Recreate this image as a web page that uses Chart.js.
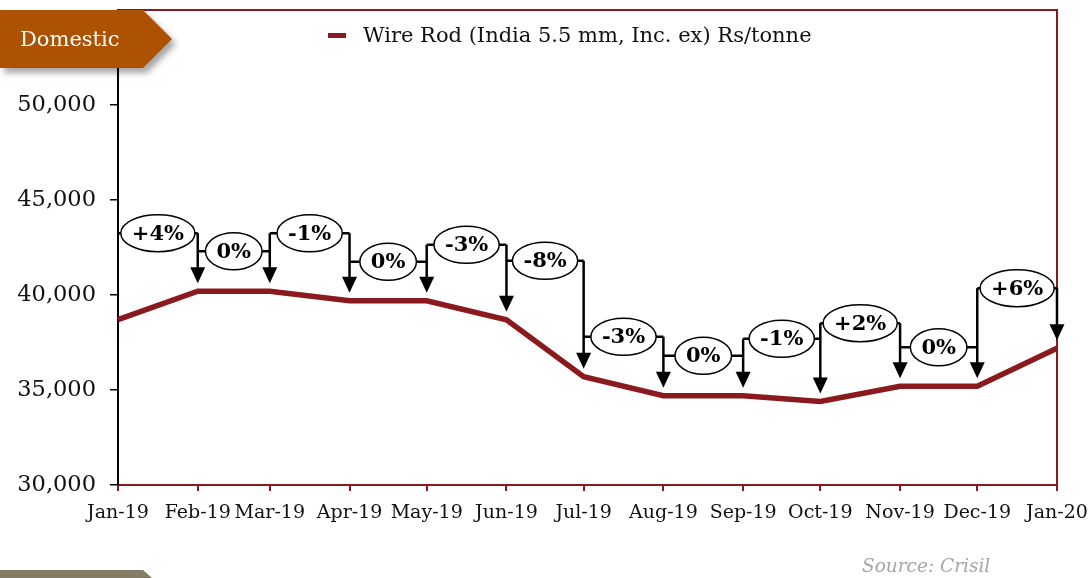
<!DOCTYPE html>
<html><head><meta charset="utf-8">
<script src="https://cdn.jsdelivr.net/npm/chart.js@4/dist/chart.umd.min.js"></script>
<style>
html,body{margin:0;padding:0;background:#fff;}
#wrap{position:relative;width:1089px;height:578px;overflow:hidden;background:#fff;}
#c{position:absolute;left:0;top:0;}
.tag{position:absolute;left:0;top:10px;filter:drop-shadow(4px 5px 3px rgba(0,0,0,0.35));}
.tag div{width:172px;height:58px;background:#AD5200;clip-path:polygon(0 0,143px 0,172px 29px,143px 58px,0 58px);color:#fff;font:21px "DejaVu Serif";line-height:58px;padding-left:20px;box-sizing:border-box;}
.foot{position:absolute;left:0;top:570px;width:152px;height:12px;background:#857C66;clip-path:polygon(0 0,143px 0,152px 8px,152px 12px,0 12px);}
.src{position:absolute;left:862px;top:555px;font:italic 18.5px "DejaVu Serif";color:#A6A6A6;white-space:nowrap;}
</style></head>
<body>
<div id="wrap">
<canvas id="c" width="1089" height="578"></canvas>
<div class="tag"><div>Domestic</div></div>
<div class="foot"></div>
<div class="src">Source: Crisil</div>
</div>
<script>
const monthLabels = ['Jan-19','Feb-19','Mar-19','Apr-19','May-19','Jun-19','Jul-19','Aug-19','Sep-19','Oct-19','Nov-19','Dec-19','Jan-20'];
const monthDates = ['2019-01-01','2019-02-01','2019-03-01','2019-04-01','2019-05-01','2019-06-01','2019-07-01','2019-08-01','2019-09-01','2019-10-01','2019-11-01','2019-12-01','2020-01-01'];
const wireRodPrices = [38700,40200,40200,39700,39700,38700,35700,34700,34700,34400,35200,35200,37200];
const changeLabels = ['+4%','0%','-1%','0%','-3%','-8%','-3%','0%','-1%','+2%','0%','+6%'];
const yTickValues = [30000,35000,40000,45000,50000];
const seriesName = 'Wire Rod (India 5.5 mm, Inc. ex) Rs/tonne';

const dayOffsets = monthDates.map(d => (Date.parse(d) - Date.parse(monthDates[0])) / 86400000);
const RED = '#8B1A1F';
const FONT = '"DejaVu Serif", serif';

const framePlugin = {
  id: 'frame',
  beforeDatasetsDraw(chart) {
    const {ctx, chartArea: a} = chart;
    ctx.save();
    ctx.strokeStyle = RED; ctx.lineWidth = 2;
    ctx.beginPath();
    ctx.moveTo(a.left, a.top); ctx.lineTo(a.right, a.top); ctx.lineTo(a.right, a.bottom);
    ctx.stroke();
    ctx.restore();
  },
  afterDraw(chart) {
    const ctx = chart.ctx;
    ctx.save();
    ctx.fillStyle = RED;
    ctx.fillRect(328, 33, 18, 5);
    ctx.fillStyle = '#111';
    ctx.font = '21px ' + FONT;
    ctx.textBaseline = 'middle';
    ctx.textAlign = 'left';
    ctx.fillText(seriesName, 363, 37);
    ctx.restore();
  }
};

const bracketPlugin = {
  id: 'brackets',
  afterDatasetsDraw(chart, args, opts) {
    const ctx = chart.ctx, xs = chart.scales.x, ys = chart.scales.y;
    const px = dayOffsets.map(d => xs.getPixelForValue(d));
    const py = wireRodPrices.map(v => ys.getPixelForValue(v));
    const lv = changeLabels.map((_, i) => Math.min(py[i], py[i + 1]) - opts.raise[i]);
    ctx.save();
    ctx.strokeStyle = '#000'; ctx.fillStyle = '#000'; ctx.lineWidth = 2.5;
    for (let i = 1; i < px.length; i++) {
      const top = i < lv.length ? Math.min(lv[i - 1], lv[i]) : lv[i - 1];
      const tip = py[i] - opts.gap;
      ctx.beginPath(); ctx.moveTo(px[i], top); ctx.lineTo(px[i], tip - opts.headH + 2); ctx.stroke();
      ctx.beginPath();
      ctx.moveTo(px[i] - opts.headW / 2, tip - opts.headH);
      ctx.lineTo(px[i] + opts.headW / 2, tip - opts.headH);
      ctx.lineTo(px[i], tip); ctx.closePath(); ctx.fill();
    }
    ctx.font = 'bold 21px ' + FONT;
    ctx.textAlign = 'center'; ctx.textBaseline = 'middle';
    for (let i = 0; i < lv.length; i++) {
      const cx = (px[i] + px[i + 1]) / 2, y = lv[i];
      const tw = ctx.measureText(changeLabels[i]).width;
      const rx = Math.min(tw / 2 + 11, (px[i + 1] - px[i]) / 2 - 1), ry = 18.5;
      ctx.lineWidth = 2.5; ctx.strokeStyle = '#000';
      ctx.beginPath();
      ctx.moveTo(px[i], y); ctx.lineTo(cx - rx, y);
      ctx.moveTo(cx + rx, y); ctx.lineTo(px[i + 1], y);
      ctx.stroke();
      ctx.beginPath(); ctx.ellipse(cx, y, rx, ry, 0, 0, Math.PI * 2);
      ctx.fillStyle = '#fff'; ctx.fill();
      ctx.lineWidth = 1.5; ctx.stroke();
      ctx.fillStyle = '#000';
      ctx.fillText(changeLabels[i], cx, y + 1);
    }
    ctx.restore();
  }
};

new Chart(document.getElementById('c'), {
  type: 'line',
  data: {
    datasets: [{
      label: seriesName,
      data: dayOffsets.map((d, i) => ({x: d, y: wireRodPrices[i]})),
      borderColor: RED, backgroundColor: RED, borderWidth: 5.5,
      pointRadius: 0, tension: 0, clip: false
    }]
  },
  options: {
    responsive: false, animation: false,
    layout: {padding: {top: 10, right: 32, left: 0, bottom: 0}},
    plugins: {
      legend: {display: false}, tooltip: {enabled: false},
      brackets: {raise: [58,40,58,39,56,59,40,40,57,63,39,60], gap: 8, headW: 15, headH: 16}
    },
    scales: {
      x: {
        type: 'linear', min: 0, max: dayOffsets[dayOffsets.length - 1],
        afterBuildTicks: s => { s.ticks = dayOffsets.map(v => ({value: v})); },
        afterFit: s => { s.height = 93; s.paddingLeft = 0; s.paddingRight = 0; },
        ticks: {autoSkip: false, maxRotation: 0, padding: 11, color: '#111',
          font: {family: FONT, size: 19}, callback: (v, i) => monthLabels[i]},
        grid: {drawOnChartArea: false, drawTicks: true, tickLength: 6, color: RED, lineWidth: 2},
        border: {display: true, color: RED, width: 2}
      },
      y: {
        min: 30000, max: 55000,
        afterBuildTicks: s => { s.ticks = yTickValues.map(v => ({value: v})); },
        afterFit: s => { s.width = 118; s.paddingTop = 0; s.paddingBottom = 0; },
        ticks: {padding: 14, color: '#111', font: {family: FONT, size: 22.5},
          callback: v => v.toLocaleString('en-US')},
        grid: {drawOnChartArea: false, drawTicks: true, tickLength: 8, color: '#000', lineWidth: 1.5},
        border: {display: true, color: '#000', width: 2}
      }
    }
  },
  plugins: [framePlugin, bracketPlugin]
});
</script>
</body></html>
